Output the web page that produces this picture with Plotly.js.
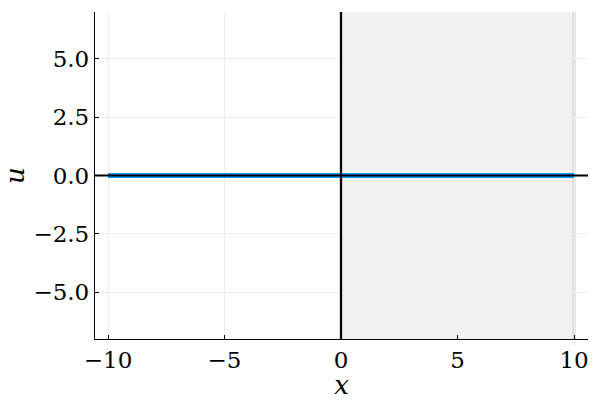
<!DOCTYPE html>
<html>
<head>
<meta charset="utf-8">
<script src="https://cdn.plot.ly/plotly-3.0.1.min.js"></script>
<style>html,body{margin:0;padding:0;background:#fff;}#chart{width:600px;height:400px;}</style>
</head>
<body>
<div id="chart"></div>
<script>
// data
const xs = [-10, 10];
const u = [0, 0];
const shadeRange = [0, 10];
const xTicks = [-10, -5, 0, 5, 10];
const xTickLabels = ['\u221210', '\u22125', '0', '5', '10'];
const yTicks = [-5, -2.5, 0, 2.5, 5];
const yTickLabels = ['\u22125.0', '\u22122.5', '0.0', '2.5', '5.0'];
const xRange = [-10.56, 10.6];
const yRange = [-7, 7];

const traces = [{
  x: xs, y: u, type: 'scatter', mode: 'lines',
  line: {color: '#009AFA', width: 5},
  hoverinfo: 'skip', showlegend: false
}];

const shapes = [
  {type: 'rect', xref: 'x', yref: 'paper', x0: shadeRange[0], x1: shadeRange[1], y0: 0, y1: 1,
   fillcolor: '#f1f1f1', line: {width: 0}, layer: 'below'},
  {type: 'line', xref: 'x', yref: 'paper', x0: shadeRange[0], x1: shadeRange[0], y0: 0, y1: 1,
   line: {color: '#d6d6d6', width: 4}, layer: 'below'},
  {type: 'line', xref: 'x', yref: 'paper', x0: shadeRange[1], x1: shadeRange[1], y0: 0, y1: 1,
   line: {color: '#dcdcdc', width: 3.5}, layer: 'below'},
  {type: 'line', xref: 'paper', yref: 'y', x0: 0, x1: 1, y0: 0, y1: 0,
   line: {color: '#000000', width: 2}, layer: 'above'},
  {type: 'line', xref: 'x', yref: 'paper', x0: 0, x1: 0, y0: 0, y1: 1,
   line: {color: '#000000', width: 2}, layer: 'above'}
];

const layout = {
  width: 600, height: 400,
  margin: {l: 95, r: 12, t: 12, b: 61},
  font: {family: 'DejaVu Serif', size: 23, color: '#000'},
  showlegend: false,
  shapes: shapes,
  xaxis: {
    range: xRange, tickvals: xTicks, ticktext: xTickLabels,
    showgrid: true, gridcolor: '#efefef',
    zeroline: false, showline: true, linecolor: '#000', linewidth: 1.3,
    ticks: 'inside', ticklen: 4, tickcolor: '#000',
    tickfont: {family: 'DejaVu Serif', size: 23, color: '#000'},
    title: {text: '<i>x</i>', font: {family: 'DejaVu Serif', size: 26, color: '#000'}, standoff: 5}
  },
  yaxis: {
    range: yRange, tickvals: yTicks, ticktext: yTickLabels,
    showgrid: true, gridcolor: '#efefef',
    zeroline: false, showline: true, linecolor: '#000', linewidth: 1.3,
    ticks: 'inside', ticklen: 4, tickcolor: '#000',
    tickfont: {family: 'DejaVu Serif', size: 23, color: '#000'},
    title: {text: '<i>u</i>', font: {family: 'DejaVu Serif', size: 26, color: '#000'}, standoff: 10}
  }
};

Plotly.newPlot('chart', traces, layout, {displayModeBar: false});
</script>
</body>
</html>
